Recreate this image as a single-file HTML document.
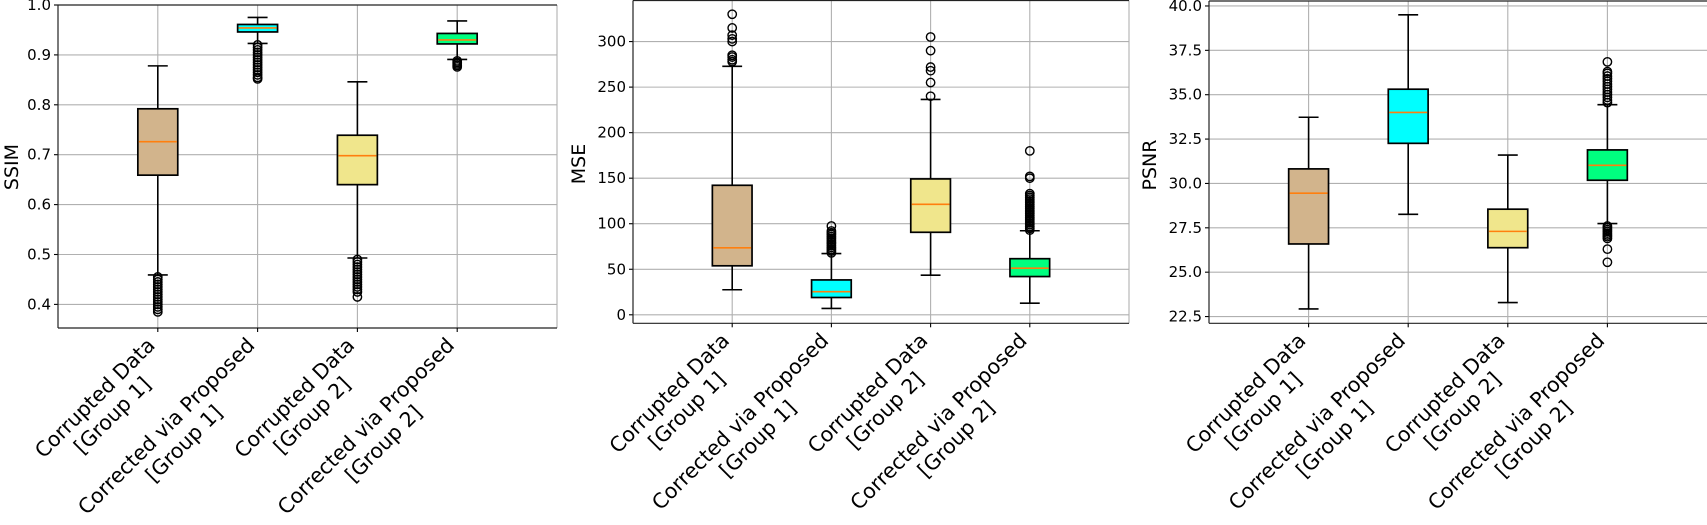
<!DOCTYPE html>
<html><head><meta charset="utf-8">
<style>
html,body{margin:0;padding:0;background:#fff;}
svg{display:block;}
text{font-family:"DejaVu Sans","Liberation Sans",sans-serif;fill:#000;}
</style></head>
<body>
<svg id="fig" width="1707" height="525" viewBox="0 0 1707 525" xmlns="http://www.w3.org/2000/svg"></svg>
<script>
// ---- data ----
const categoryLine1 = ["Corrupted Data", "Corrected via Proposed", "Corrupted Data", "Corrected via Proposed"];
const categoryLine2 = ["[Group 1]", "[Group 1]", "[Group 2]", "[Group 2]"];
const boxColors = ["#D2B48C", "#00FFFF", "#F0E68C", "#00FF7F"];

const ssimLo  = [0.459, 0.923, 0.493, 0.891];
const ssimQ1  = [0.659, 0.946, 0.640, 0.922];
const ssimMed = [0.726, 0.954, 0.698, 0.930];
const ssimQ3  = [0.792, 0.961, 0.739, 0.943];
const ssimHi  = [0.878, 0.975, 0.846, 0.968];
const ssimOut = [
  [0.455,0.45,0.445,0.44,0.435,0.43,0.425,0.42,0.415,0.41,0.405,0.40,0.395,0.39,0.385],
  [0.92,0.915,0.91,0.905,0.90,0.895,0.89,0.885,0.88,0.875,0.87,0.865,0.86,0.855,0.852],
  [0.49,0.485,0.48,0.475,0.47,0.465,0.46,0.455,0.45,0.445,0.44,0.435,0.43,0.425,0.415],
  [0.888,0.885,0.882,0.879,0.876]
];
const ssimTicks = [0.4,0.5,0.6,0.7,0.8,0.9,1.0];

const mseLo  = [27.5, 7, 43.5, 12.8];
const mseQ1  = [53.8, 19, 90.6, 42];
const mseMed = [73.5, 25.4, 121.3, 51.2];
const mseQ3  = [142.2, 38.3, 149.2, 61.6];
const mseHi  = [272.8, 67.2, 236.5, 92.3];
const mseOut = [
  [278,280,283,285,300,303,307,315,330],
  [68,70,72,74,76,78,80,82,84,86,88,90,92,97.5],
  [240,255,268,272,290,305],
  [93,95,97,99,101,103,105,107,109,111,113,115,117,119,121,123,125,127,129,131,133,150,152,180]
];
const mseTicks = [0,50,100,150,200,250,300];

const psnrLo  = [22.93, 28.26, 23.29, 27.74];
const psnrQ1  = [26.59, 32.26, 26.38, 30.18];
const psnrMed = [29.45, 34.0, 27.3, 31.02];
const psnrQ3  = [30.82, 35.31, 28.55, 31.89];
const psnrHi  = [33.73, 39.5, 31.6, 34.44];
const psnrOut = [
  [],
  [],
  [],
  [34.55,34.7,34.85,35.0,35.15,35.3,35.45,35.6,35.75,35.9,36.05,36.2,36.3,36.85,
   27.6,27.5,27.4,27.3,27.2,27.1,27.0,26.9,26.3,25.56]
];
const psnrTicks = [22.5,25.0,27.5,30.0,32.5,35.0,37.5,40.0];

// ---- layout (geometry only) ----
const panels = [
  {name:"ssim", label:"SSIM", left:58, right:557, top:5, bottom:328, ymin:0.3527, ymax:1.0,
   lo:ssimLo,q1:ssimQ1,med:ssimMed,q3:ssimQ3,hi:ssimHi,out:ssimOut,ticks:ssimTicks,dec:1,labelX:12,labelY:167},
  {name:"mse", label:"MSE", left:633, right:1129, top:0.5, bottom:323.3, ymin:-9.33, ymax:345.1,
   lo:mseLo,q1:mseQ1,med:mseMed,q3:mseQ3,hi:mseHi,out:mseOut,ticks:mseTicks,dec:0,labelX:579,labelY:164},
  {name:"psnr", label:"PSNR", left:1209, right:1707, top:1, bottom:323.3, ymin:22.12, ymax:40.28,
   lo:psnrLo,q1:psnrQ1,med:psnrMed,q3:psnrQ3,hi:psnrHi,out:psnrOut,ticks:psnrTicks,dec:1,labelX:1150,labelY:165}
];

const NS = "http://www.w3.org/2000/svg";
const svg = document.getElementById("fig");
function mk(tag, attrs, parent){
  const e = document.createElementNS(NS, tag);
  for (const k in attrs) e.setAttribute(k, attrs[k]);
  (parent||svg).appendChild(e);
  return e;
}
const cv = document.createElement("canvas").getContext("2d");
const XFS = 20.6;
cv.font = XFS + 'px "DejaVu Sans"';

panels.forEach(function(p){
  const g = mk("g", {});
  
  
  const sp = (p.right - p.left) / 5;
  const xs = function(i){ return p.left + (i + 1) * sp; };
  const ys = function(v){ return p.bottom - (v - p.ymin) / (p.ymax - p.ymin) * (p.bottom - p.top); };

  p.ticks.forEach(function(t){
    const y = ys(t);
    const gl = mk("line", {x1:p.left, x2:p.right, y1:y, y2:y, stroke:"#b0b0b0", "stroke-width":1.1}, g);
    
    
    mk("line", {x1:p.left-4, x2:p.left, y1:y, y2:y, stroke:"#000", "stroke-width":1.1}, g);
    const tl = mk("text", {x:p.left-7, y:y, "text-anchor":"end", "dominant-baseline":"central", "font-size":15}, g);
    tl.textContent = t.toFixed(p.dec);
    
    
  });
  for (let i = 0; i < 4; i++){
    const x = xs(i);
    const vl = mk("line", {x1:x, x2:x, y1:p.top, y2:p.bottom, stroke:"#b0b0b0", "stroke-width":1.1}, g);
    
    
  }
  if (p.right < 1700) mk("line", {x1:p.right, x2:p.right, y1:p.top, y2:p.bottom, stroke:"#b0b0b0", "stroke-width":1.1}, g);

  for (let i = 0; i < 4; i++){
    const x = xs(i), hw = 0.2 * sp, cw = 0.1 * sp;
    const bg = mk("g", {}, g);
    
    
    mk("line", {x1:x, x2:x, y1:ys(p.hi[i]), y2:ys(p.q3[i]), stroke:"#000", "stroke-width":1.6}, bg);
    mk("line", {x1:x, x2:x, y1:ys(p.q1[i]), y2:ys(p.lo[i]), stroke:"#000", "stroke-width":1.6}, bg);
    mk("line", {x1:x-cw, x2:x+cw, y1:ys(p.hi[i]), y2:ys(p.hi[i]), stroke:"#000", "stroke-width":1.6}, bg);
    mk("line", {x1:x-cw, x2:x+cw, y1:ys(p.lo[i]), y2:ys(p.lo[i]), stroke:"#000", "stroke-width":1.6}, bg);
    mk("rect", {x:x-hw, y:ys(p.q3[i]), width:2*hw, height:ys(p.q1[i])-ys(p.q3[i]), fill:boxColors[i], stroke:"#000", "stroke-width":1.7}, bg);
    mk("line", {x1:x-hw+1, x2:x+hw-1, y1:ys(p.med[i]), y2:ys(p.med[i]), stroke:"#ff7f0e", "stroke-width":1.6}, bg);
    p.out[i].forEach(function(v){
      const c = mk("circle", {cx:x, cy:ys(v), r:4.2, fill:"none", stroke:"#000", "stroke-width":1.4}, bg);
      
      
    });
  }

  mk("line", {x1:p.left, x2:p.left, y1:p.top, y2:p.bottom, stroke:"#222", "stroke-width":1.2}, g);
  mk("line", {x1:p.left, x2:p.right, y1:p.bottom, y2:p.bottom, stroke:"#222", "stroke-width":1.2}, g);
  mk("line", {x1:p.left, x2:p.right, y1:p.top, y2:p.top, stroke:"#222", "stroke-width":1.2}, g);

  for (let i = 0; i < 4; i++){
    const x = xs(i);
    mk("line", {x1:x, x2:x, y1:p.bottom, y2:p.bottom+4, stroke:"#000", "stroke-width":1.1}, g);
    const W = Math.max(cv.measureText(categoryLine1[i]).width, cv.measureText(categoryLine2[i]).width);
    const H = XFS * 2.35;
    const ox = x - 0.7071 * H + 19, oy = p.bottom + 5;
    const lg = mk("g", {transform:"translate(" + ox + "," + oy + ") rotate(-45)"}, g);
    
    
    const t1 = mk("text", {x:-W/2, y:XFS*0.93, "text-anchor":"middle", "font-size":XFS}, lg);
    t1.textContent = categoryLine1[i];
    const t2 = mk("text", {x:-W/2, y:XFS*0.93 + XFS*1.2, "text-anchor":"middle", "font-size":XFS}, lg);
    t2.textContent = categoryLine2[i];
  }

  const yl = mk("text", {x:p.labelX, y:p.labelY, "text-anchor":"middle", "dominant-baseline":"central", "font-size":19, transform:"rotate(-90 " + p.labelX + " " + p.labelY + ")"}, g);
  yl.textContent = p.label;
  
  
});
</script>
</body></html>
